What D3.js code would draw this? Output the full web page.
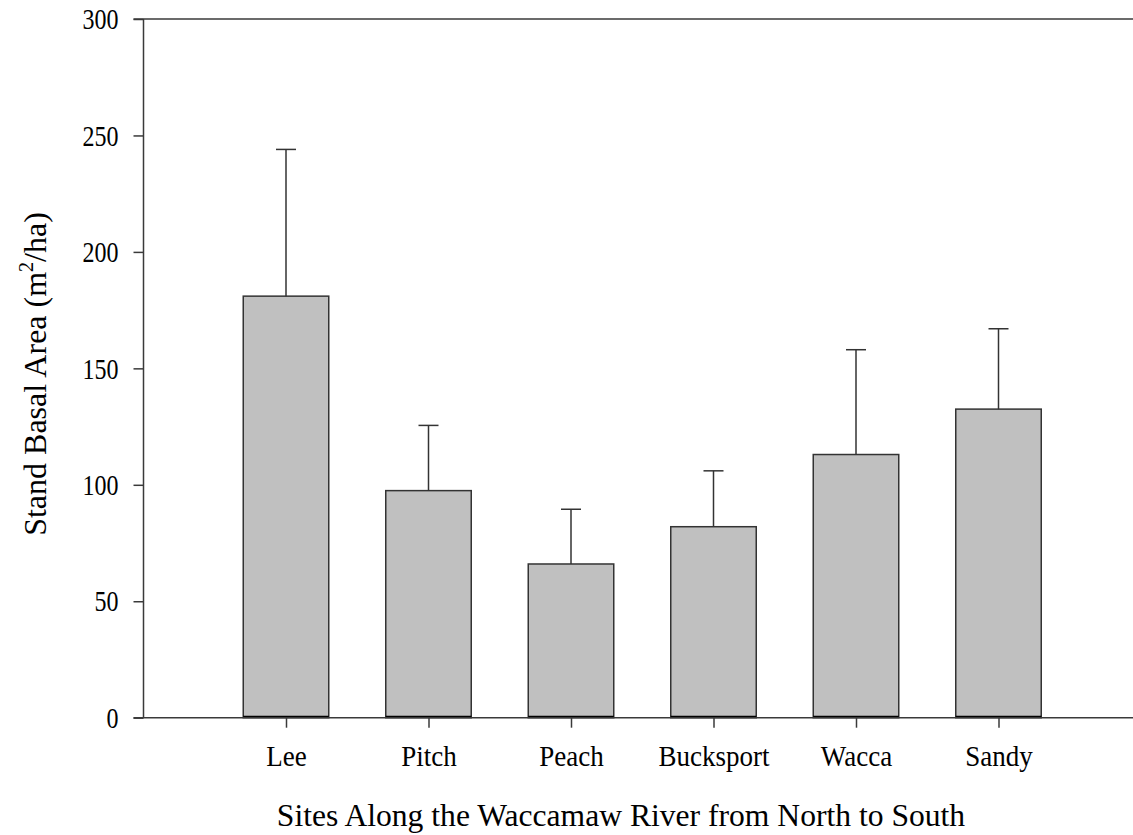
<!DOCTYPE html>
<html>
<head>
<meta charset="utf-8">
<script src="https://cdn.jsdelivr.net/npm/d3@7"></script>
<style>
  html, body { margin: 0; padding: 0; background: #fff; }
  svg { display: block; }
  text { font-family: "Liberation Serif", "Times New Roman", serif; fill: #000; }
</style>
</head>
<body>
<svg id="chart" width="1133" height="835"></svg>
<script>
// Stand basal area by site, Waccamaw River (north to south)
const sites = ["Lee", "Pitch", "Peach", "Bucksport", "Wacca", "Sandy"];
const basalMean = [181, 97.5, 66, 82, 113, 132.5];
const basalSE = [63, 28, 23.5, 24, 45, 34.5];
const yTicks = [0, 50, 100, 150, 200, 250, 300];

const svg = d3.select("#chart");
const plotLeft = 143.5, plotRight = 1141, plotTop = 19, plotBottom = 717.7;

// sites sit at positions 1..6 on a 0..7 axis
const x = d3.scaleLinear().domain([0, sites.length + 1]).range([plotLeft, plotRight]);
const y = d3.scaleLinear().domain([0, 300]).range([plotBottom, plotTop]);
const barW = (x(1) - x(0)) * 0.6;
const capW = 20;
const axisColor = "#3a3a3a";

const data = sites.map((s, i) => ({ site: s, pos: i + 1, mean: basalMean[i], se: basalSE[i] }));

// bars
svg.append("g").selectAll("rect").data(data).join("rect")
  .attr("x", d => x(d.pos) - barW / 2)
  .attr("y", d => y(d.mean))
  .attr("width", barW)
  .attr("height", d => y(0) - y(d.mean))
  .attr("fill", "#c0c0c0")
  .attr("stroke", "#333")
  .attr("stroke-width", 1.5);

// upper error bars
const err = svg.append("g").attr("stroke", "#333").attr("stroke-width", 1.5);
err.selectAll("line.v").data(data).join("line").attr("class", "v")
  .attr("x1", d => x(d.pos)).attr("x2", d => x(d.pos))
  .attr("y1", d => y(d.mean)).attr("y2", d => y(d.mean + d.se));
err.selectAll("line.c").data(data).join("line").attr("class", "c")
  .attr("x1", d => x(d.pos) - capW / 2).attr("x2", d => x(d.pos) + capW / 2)
  .attr("y1", d => y(d.mean + d.se)).attr("y2", d => y(d.mean + d.se));

// bar baselines
svg.append("g").selectAll("line").data(data).join("line")
  .attr("x1", d => x(d.pos) - barW / 2).attr("x2", d => x(d.pos) + barW / 2)
  .attr("y1", y(0) - 1).attr("y2", y(0) - 1)
  .attr("stroke", "#000").attr("stroke-width", 2);

// y axis
const yAxis = svg.append("g")
  .attr("transform", `translate(${plotLeft},0)`)
  .call(d3.axisLeft(y).tickValues(yTicks).tickSize(10).tickPadding(15).tickFormat(d3.format("d")));
yAxis.select(".domain").attr("stroke", axisColor).attr("stroke-width", 1.5)
  .attr("d", `M0,${plotTop}V${plotBottom}`);
yAxis.selectAll(".tick line").attr("stroke", axisColor).attr("stroke-width", 1.5);
yAxis.selectAll(".tick text").attr("font-size", 24).attr("dy", "0.34em")
  .attr("transform", "scale(1,1.19)")
  .style("font-family", "'Liberation Serif', serif");

// x axis
const xAxis = svg.append("g")
  .attr("transform", `translate(0,${plotBottom})`)
  .call(d3.axisBottom(x).tickValues(data.map(d => d.pos)).tickSize(10).tickPadding(16)
    .tickFormat(p => sites[p - 1]));
xAxis.select(".domain").attr("stroke", axisColor).attr("stroke-width", 1.5)
  .attr("d", `M${plotLeft - 10},0H${plotRight}`);
xAxis.selectAll(".tick line").attr("stroke", axisColor).attr("stroke-width", 1.5);
xAxis.selectAll(".tick text").attr("font-size", 27)
  .attr("transform", "scale(1,1.08)")
  .style("font-family", "'Liberation Serif', serif");

// top frame line
svg.append("line")
  .attr("x1", plotLeft - 10).attr("x2", plotRight)
  .attr("y1", y(300)).attr("y2", y(300))
  .attr("stroke", axisColor).attr("stroke-width", 1.5);

// axis titles
svg.append("text")
  .attr("x", (277 + 965) / 2).attr("y", 826)
  .attr("text-anchor", "middle").attr("font-size", 31.6)
  .text("Sites Along the Waccamaw River from North to South");

const yt = svg.append("text")
  .attr("transform", "translate(46,374) rotate(-90)")
  .attr("text-anchor", "middle").attr("font-size", 32);
yt.append("tspan").text("Stand Basal Area (m");
yt.append("tspan").attr("font-size", 20).attr("dy", -13).text("2");
yt.append("tspan").attr("dy", 13).text("/ha)");
</script>
</body>
</html>
